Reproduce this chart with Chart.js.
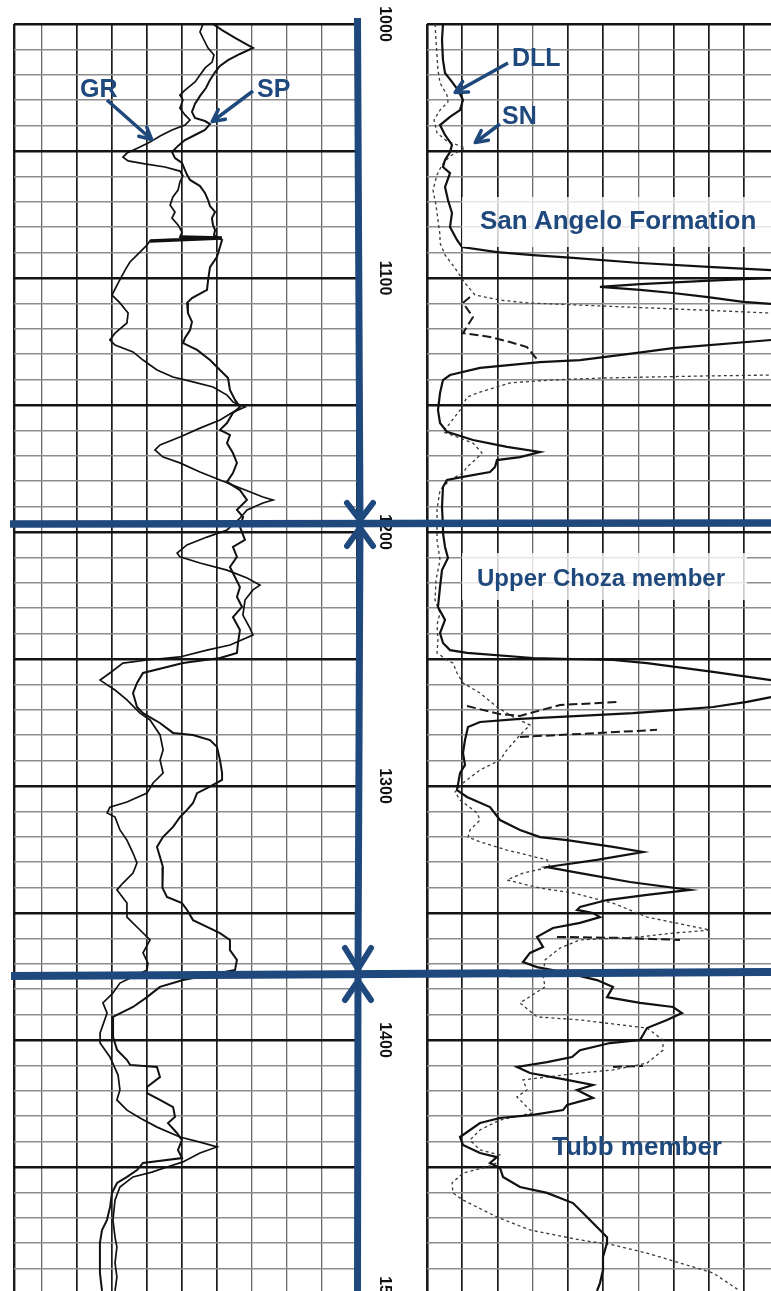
<!DOCTYPE html>
<html>
<head>
<meta charset="utf-8">
<title>Well log – San Angelo, Upper Choza and Tubb</title>
<script src="https://cdn.jsdelivr.net/npm/chart.js@4.4.1/dist/chart.umd.min.js"></script>
<style>
  html, body { margin: 0; padding: 0; background: #fff; }
  #log { position: relative; width: 771px; height: 1291px; overflow: hidden; background: #fff; }
  #trackL { position: absolute; left: 0; top: 0; }
  #trackR { position: absolute; left: 362px; top: 0; }
  #marks { position: absolute; left: 0; top: 0; pointer-events: none; }
  #marks text { font-family: "Liberation Sans", Arial, sans-serif; font-weight: bold; fill: #1f497d; }
</style>
</head>
<body>
<div id="log">
  <canvas id="trackL" width="360" height="1300"></canvas>
  <canvas id="trackR" width="420" height="1300"></canvas>
  <svg id="marks" width="771" height="1291" viewBox="0 0 771 1291" xmlns="http://www.w3.org/2000/svg">
    <defs>
      <marker id="head" viewBox="0 0 16 16" refX="13" refY="8" markerWidth="16" markerHeight="16"
              markerUnits="userSpaceOnUse" orient="auto">
        <path d="M2,2 L14,8 L2,14" fill="none" stroke="#1f497d" stroke-width="3.5"
              stroke-linecap="round" stroke-linejoin="round"/>
      </marker>
    </defs>
    <!-- formation boundaries -->
    <polyline points="357.5,18 360,523 358,975 357.5,1291" fill="none" stroke="#1f497d" stroke-width="7"/>
    <line x1="10" y1="524" x2="771" y2="523" stroke="#1f497d" stroke-width="7.5"/>
    <line x1="11" y1="976" x2="771" y2="972" stroke="#1f497d" stroke-width="8"/>
    <g fill="none" stroke="#1f497d" stroke-width="6" stroke-linecap="round" stroke-linejoin="round">
      <polyline points="347,503 360,520 373,503"/>
      <polyline points="347,546 360,528 373,546"/>
      <polyline points="345,948 358,969 371,948"/>
      <polyline points="345,1000 358,981 371,1000"/>
    </g>
    <!-- formation names -->
    <rect x="462" y="197" width="309" height="50" fill="#fff" fill-opacity="0.78"/>
    <text x="480" y="229" font-size="26">San Angelo Formation</text>
    <rect x="462" y="553" width="285" height="47" fill="#fff" fill-opacity="0.78"/>
    <text x="477" y="586" font-size="24">Upper Choza member</text>
    <text x="552" y="1155" font-size="26">Tubb member</text>
    <!-- curve call-outs -->
    <text x="80" y="97" font-size="25">GR</text>
    <line x1="107" y1="100" x2="151" y2="139" stroke="#1f497d" stroke-width="3.5" marker-end="url(#head)"/>
    <text x="257" y="97" font-size="25">SP</text>
    <line x1="253" y1="91" x2="213" y2="121" stroke="#1f497d" stroke-width="3.5" marker-end="url(#head)"/>
    <text x="512" y="66" font-size="25">DLL</text>
    <line x1="508" y1="63" x2="456" y2="92" stroke="#1f497d" stroke-width="3.5" marker-end="url(#head)"/>
    <text x="502" y="124" font-size="25">SN</text>
    <line x1="500" y1="124" x2="476" y2="142" stroke="#1f497d" stroke-width="3.5" marker-end="url(#head)"/>
  </svg>
</div>
<script>
// Depth annotations (ft)
const depthLabels = [1000, 1100, 1200, 1300, 1400, 1500];

// Track 1: gamma ray (API)
const grDepth = [1000.0,1003.1,1006.3,1009.4,1012.2,1015.0,1017.3,1020.1,1022.8,1026.0,1028.0,1029.9,1033.1,1035.8,1037.8,1039.8,1041.7,1044.1,1046.5,1048.8,1050.8,1052.4,1053.9,1055.1,1056.3,1057.9,1059.8,1062.2,1065.4,1068.1,1071.3,1074.0,1076.4,1079.1,1081.9,1083.9,1084.3,1085.4,1087.0,1089.8,1093.7,1096.9,1102.0,1106.7,1109.8,1113.8,1117.7,1121.7,1124.4,1126.4,1129.1,1132.3,1136.2,1139.0,1140.9,1142.9,1146.1,1148.8,1150.8,1152.8,1155.9,1159.1,1162.6,1165.7,1167.7,1170.5,1172.8,1176.4,1179.5,1182.7,1186.2,1187.4,1188.6,1191.3,1194.5,1199.2,1202.0,1205.1,1208.3,1209.8,1212.2,1215.0,1218.1,1220.9,1222.8,1226.8,1232.7,1237.8,1240.6,1244.5,1246.5,1249.2,1250.4,1251.6,1255.5,1258.3,1260.2,1262.2,1266.1,1271.3,1274.0,1279.9,1285.8,1289.8,1294.9,1298.8,1302.8,1306.3,1308.3,1310.6,1312.2,1317.3,1321.3,1326.4,1330.3,1334.3,1338.2,1340.9,1346.1,1351.6,1356.7,1360.6,1365.7,1369.7,1372.4,1377.6,1381.5,1385.4,1389.4,1397.2,1401.2,1406.7,1413.8,1419.7,1423.6,1427.6,1430.7,1434.3,1438.2,1440.2,1442.1,1444.5,1448.0,1450.0,1452.0,1453.9,1457.9,1463.0,1470.9,1477.6,1481.5,1487.8,1493.3,1498.8];
const grApi = [84.0,82.7,84.4,86.1,88.7,87.9,84.9,82.7,80.6,76.3,74.1,75.4,74.1,76.3,78.4,76.3,70.7,65.6,61.3,56.1,51.4,49.7,51.9,59.1,67.7,74.1,75.4,74.1,73.3,71.1,69.9,72.0,70.7,73.3,75.0,74.1,92.1,61.3,60.0,57.0,52.7,50.6,47.6,45.0,48.4,51.9,51.4,46.3,44.1,46.3,54.0,58.3,64.3,71.1,79.7,88.3,94.3,96.9,102.0,96.9,91.3,82.7,74.1,65.6,63.4,66.9,74.1,82.7,91.3,99.9,109.7,114.0,109.7,102.9,99.9,94.3,85.7,77.1,72.9,74.1,82.7,94.3,102.9,108.4,105.4,102.0,101.1,104.1,105.4,95.6,85.7,74.1,60.0,49.7,44.1,39.9,42.9,46.3,51.4,57.0,61.3,65.6,66.9,65.6,66.9,62.6,60.0,51.4,44.1,42.9,46.3,48.4,51.4,54.0,55.7,54.0,49.7,47.1,51.4,51.4,57.0,61.3,58.3,60.4,60.0,48.4,45.4,41.1,42.9,39.9,39.9,44.1,47.6,48.4,47.1,51.4,57.0,64.3,74.1,82.7,90.0,82.7,75.4,68.6,62.1,54.0,48.4,46.3,45.4,46.3,47.1,46.3,47.1,46.3];

// Track 1: spontaneous potential (mV)
const spDepth = [1000.0,1002.4,1005.5,1008.3,1009.4,1011.8,1014.2,1016.5,1018.9,1022.0,1025.2,1028.3,1031.5,1034.6,1037.0,1038.2,1039.4,1041.7,1043.7,1045.7,1048.0,1050.4,1052.8,1054.7,1057.5,1059.4,1061.4,1063.8,1066.5,1069.3,1071.7,1074.0,1076.4,1079.1,1081.1,1083.1,1085.0,1087.8,1091.7,1095.7,1100.8,1104.7,1107.9,1109.8,1113.8,1117.3,1120.5,1123.6,1125.6,1128.3,1132.3,1136.2,1139.4,1144.1,1148.0,1150.8,1153.1,1157.1,1159.8,1161.8,1165.0,1168.9,1172.8,1176.8,1180.3,1183.5,1187.4,1191.3,1194.1,1198.0,1203.1,1205.9,1209.8,1213.8,1221.7,1225.6,1229.5,1233.5,1238.6,1243.7,1247.6,1249.6,1251.6,1255.5,1259.4,1263.4,1268.9,1271.3,1275.2,1279.1,1279.9,1281.9,1284.6,1289.8,1294.9,1297.6,1300.8,1302.8,1306.7,1309.4,1312.2,1316.1,1320.1,1324.0,1327.9,1331.9,1337.0,1340.1,1343.7,1346.1,1348.8,1352.8,1355.5,1357.9,1360.6,1364.6,1368.5,1372.4,1376.4,1379.1,1383.1,1387.0,1390.9,1398.8,1403.9,1407.9,1409.8,1410.6,1414.6,1418.5,1420.9,1423.6,1426.4,1430.3,1432.7,1436.6,1439.4,1443.3,1446.5,1448.4,1451.2,1453.9,1456.3,1460.2,1465.7,1470.9,1474.8,1479.9,1485.4,1491.7,1498.8];
const spMv = [-82.3,-77.1,-69.7,-62.3,-59.4,-66.9,-73.7,-78.3,-81.1,-84.0,-86.3,-89.7,-92.6,-94.3,-92.6,-86.9,-84.0,-86.9,-92.6,-98.3,-102.3,-105.7,-104.0,-100.0,-98.3,-97.1,-95.4,-89.7,-86.9,-85.1,-84.0,-81.1,-82.9,-82.3,-81.1,-81.7,-77.1,-78.3,-80.0,-84.0,-85.1,-85.7,-94.3,-97.1,-96.6,-94.3,-95.4,-98.3,-99.4,-91.4,-84.0,-78.3,-73.7,-72.6,-69.7,-66.9,-70.9,-74.3,-78.3,-72.6,-74.3,-70.9,-68.6,-70.9,-74.3,-66.9,-62.9,-68.6,-65.1,-66.9,-64.0,-70.9,-68.6,-72.6,-66.9,-68.6,-65.7,-70.9,-66.9,-68.0,-68.6,-78.3,-99.4,-122.3,-125.7,-128.0,-125.7,-122.3,-112.6,-105.1,-93.7,-84.0,-80.0,-78.3,-77.1,-77.1,-85.7,-91.4,-93.7,-97.1,-101.1,-105.1,-110.9,-114.3,-112.6,-110.9,-110.9,-111.4,-108.6,-100.0,-97.1,-93.7,-85.7,-78.3,-72.6,-72.6,-68.6,-69.7,-99.4,-112.6,-120.0,-128.0,-139.4,-139.4,-137.1,-131.4,-129.7,-114.3,-112.6,-120.0,-120.0,-112.6,-105.1,-104.0,-108.0,-102.9,-100.0,-102.3,-100.0,-122.3,-125.7,-131.4,-137.1,-140.0,-141.1,-142.9,-145.7,-146.9,-146.9,-146.9,-145.7];

// Track 2: deep laterolog (ohm·m); values past 50 run off the track
const dllDepth = [1000.0,1006.3,1014.2,1019.3,1022.8,1026.0,1029.9,1033.9,1036.6,1039.8,1043.7,1047.6,1050.4,1053.5,1056.3,1058.7,1064.2,1069.3,1074.4,1079.9,1085.0,1087.8,1089.8,1091.0,1092.1,1094.1,1095.7,1096.9,1097.6,1099.2,1100.0,1101.2,1102.4,1103.5,1104.7,1105.9,1107.5,1109.4,1110.2,1111.0,1123.6,1124.4,1127.6,1129.5,1132.3,1133.1,1135.4,1138.2,1140.2,1145.3,1152.0,1157.1,1160.6,1163.8,1166.5,1168.5,1170.5,1171.7,1174.4,1176.4,1178.3,1179.5,1182.3,1190.2,1198.0,1200.4,1205.9,1210.2,1215.0,1221.7,1229.5,1234.6,1239.8,1243.7,1246.5,1247.6,1249.6,1250.4,1251.6,1255.1,1258.3,1259.8,1264.2,1265.0,1266.9,1268.9,1270.1,1271.3,1272.4,1273.6,1274.8,1276.8,1281.9,1287.0,1291.7,1294.9,1301.6,1304.3,1308.3,1313.4,1317.3,1320.1,1321.3,1324.0,1326.0,1329.1,1331.9,1334.3,1337.8,1340.9,1342.9,1344.9,1347.6,1348.8,1350.0,1351.6,1353.9,1355.9,1359.4,1363.4,1365.7,1369.3,1371.3,1373.6,1376.4,1379.1,1383.1,1385.4,1387.0,1389.4,1392.1,1395.3,1400.0,1401.2,1404.0,1406.7,1408.7,1410.6,1413.0,1415.7,1417.7,1419.7,1422.8,1425.6,1427.6,1429.5,1430.7,1432.7,1438.2,1441.3,1444.5,1446.1,1448.4,1450.4,1453.9,1457.9,1460.2,1464.2,1469.7,1477.6,1479.9,1485.4,1490.6,1495.7,1498.8];
const dllOhmm = [2.27,2.13,2.27,2.56,3.55,4.40,5.11,4.69,3.27,1.85,2.56,3.55,3.27,2.56,2.27,3.27,2.56,2.98,3.55,3.27,4.26,4.97,9.94,15.06,20.74,30.26,40.63,48.87,52.98,52.98,48.87,38.78,30.26,24.57,30.26,34.94,39.91,44.89,48.87,52.98,52.98,48.87,34.94,29.83,21.73,16.05,7.53,3.27,2.27,1.85,1.56,1.85,2.84,6.53,11.36,16.05,13.21,9.94,9.66,8.95,5.11,2.84,2.27,2.13,2.27,2.27,2.56,2.98,2.13,1.85,1.56,2.56,1.85,2.27,3.27,5.68,15.06,26.42,31.25,40.63,48.87,52.98,52.98,48.87,45.46,40.63,34.94,29.26,21.73,13.21,7.53,5.82,5.40,5.11,5.40,4.69,4.26,5.68,8.95,10.37,13.21,16.05,19.89,26.42,30.68,24.15,17.05,21.73,28.84,37.36,31.25,25.57,21.73,21.31,23.58,24.57,21.73,17.90,15.63,16.48,14.63,13.64,15.63,19.89,24.15,26.42,25.57,30.26,34.94,36.22,34.09,31.25,30.26,26.00,21.73,20.60,17.05,12.78,14.63,19.89,23.58,21.31,23.58,19.89,19.32,15.06,10.37,7.53,4.69,5.11,7.53,9.94,8.95,10.37,10.80,13.21,17.05,20.74,22.73,25.57,25.57,25.00,25.00,24.57,24.15];

// Track 2: short normal (ohm·m)
const snDepth = [1000.0,1006.3,1012.2,1018.1,1023.2,1028.0,1030.7,1033.9,1037.8,1042.9,1046.1,1048.8,1052.0,1055.5,1059.4,1065.4,1071.3,1077.2,1083.1,1086.2,1090.9,1096.1,1102.0,1106.7,1108.7,1109.8,1111.0,1112.6,1113.8,1114.2,1137.8,1138.2,1138.6,1139.4,1140.2,1141.3,1142.9,1144.9,1146.9,1152.0,1158.7,1160.6,1162.6,1165.0,1168.9,1170.9,1174.4,1176.8,1179.5,1183.5,1191.3,1199.2,1203.1,1211.0,1218.9,1226.8,1231.9,1236.6,1242.5,1247.6,1250.4,1251.6,1255.5,1259.4,1263.4,1268.9,1272.8,1276.0,1279.9,1285.8,1289.8,1293.7,1298.8,1302.4,1305.5,1310.6,1313.4,1317.3,1320.1,1322.0,1325.2,1329.1,1331.9,1334.3,1337.0,1340.2,1342.1,1346.1,1351.6,1356.7,1357.9,1359.4,1360.6,1363.8,1368.5,1374.4,1379.1,1385.4,1390.9,1392.1,1395.3,1400.0,1404.0,1409.1,1411.8,1413.0,1415.7,1419.7,1422.4,1426.4,1428.7,1431.5,1435.4,1439.4,1443.3,1445.3,1448.4,1450.0,1452.4,1456.3,1460.2,1463.0,1469.7,1474.8,1478.7,1480.7,1483.9,1487.8,1491.7,1498.8];
const snOhmm = [1.14,1.28,1.42,1.56,1.85,2.84,2.98,1.85,0.99,1.42,2.84,5.40,3.27,2.13,1.42,0.85,1.28,1.56,1.85,1.85,2.56,3.98,5.40,6.82,10.37,14.20,24.57,38.78,48.87,52.98,52.98,48.87,38.78,24.57,17.47,11.79,9.94,7.53,5.68,4.69,2.84,2.27,4.26,6.53,7.81,7.10,5.68,5.11,3.27,1.85,1.42,1.42,1.42,1.85,1.28,1.14,1.85,1.42,1.56,1.42,2.84,3.69,4.26,5.11,7.53,9.94,12.22,14.63,13.21,11.36,10.37,7.53,5.11,3.98,4.69,7.10,7.53,6.11,5.82,7.53,11.36,17.05,17.47,13.64,11.36,16.05,20.74,26.42,31.25,40.20,34.94,30.26,21.73,18.89,16.76,16.48,16.76,13.21,15.63,21.73,31.25,33.52,33.52,31.25,26.42,21.73,13.64,14.20,12.78,14.20,15.06,10.37,7.53,6.11,7.53,10.37,9.94,8.52,5.11,3.55,3.69,5.11,9.94,14.63,21.73,26.42,31.25,35.94,40.63,44.46];

// Track 2: backup resistivity trace (ohm·m), recorded only in short runs
const auxDepth = [1107.5,1109.8,1115.4,1121.7,1123.2,1125.2,1127.2,1131.1,1133.1,null,1268.5,1271.7,1272.4,1268.1,1266.9,null,1280.7,1279.5,1277.9,null,1359.4,1359.8,1360.6,null,1410.6,1410.2];
const auxOhmm = [6.11,5.11,6.53,5.11,8.95,11.79,14.20,15.34,16.05,null,5.68,10.37,13.21,18.89,27.41,null,13.21,21.73,32.67,null,18.47,27.41,35.94,null,26.42,30.68];

const toPoints = (depths, values) => depths.map((d, i) => ({ x: values[i], y: d }));

function depthScale() {
  return {
    type: 'linear', axis: 'y', min: 1000, max: 1500, reverse: true,
    ticks: { display: false, stepSize: 10 },
    grid: {
      drawTicks: false,
      color: c => (c.tick && c.tick.value % 50 === 0) ? '#141414' : '#8d8d8d',
      lineWidth: c => (c.tick && c.tick.value % 50 === 0) ? 2.4 : 1.6
    },
    border: { display: false }
  };
}

function curve(label, data, axis, color, width, dash) {
  return {
    label, data, xAxisID: axis, yAxisID: 'y',
    showLine: true, borderColor: color, borderWidth: width, borderDash: dash || [],
    pointRadius: 0, tension: 0, spanGaps: false, fill: false
  };
}

const common = {
  responsive: false, animation: false, devicePixelRatio: 1, events: [],
  plugins: { legend: { display: false }, tooltip: { enabled: false } }
};

// Track 1: GR and SP (the pen smear near 1084 ft is drawn heavier)
new Chart(document.getElementById('trackL'), {
  type: 'scatter',
  data: {
    datasets: [
      curve('GR', toPoints(grDepth, grApi), 'x', '#111', 1.7),
      curve('GR smear', toPoints(grDepth.slice(35, 38), grApi.slice(35, 38)), 'x', '#111', 3.5),
      curve('SP', toPoints(spDepth, spMv), 'xsp', '#111', 2.0)
    ]
  },
  options: Object.assign({}, common, {
    layout: { padding: { left: 14, right: 3, top: 24, bottom: 6 } },
    scales: {
      x: {
        type: 'linear', axis: 'x', position: 'bottom', min: 3, max: 150,
        ticks: { display: false, stepSize: 15 },
        grid: {
          drawTicks: false,
          color: c => [15, 105, 120, 135].includes(c.tick.value) ? '#6a6a6a' : '#1a1a1a',
          lineWidth: c => c.tick.value === 3 ? 2.4 : ([15, 105, 120, 135].includes(c.tick.value) ? 1.3 : 1.7)
        },
        border: { display: false }
      },
      xsp: { type: 'linear', axis: 'x', display: false, min: -196, max: 0 },
      y: depthScale()
    }
  })
});

// Depth numbers in the column between the tracks
const depthNumbers = {
  id: 'depthNumbers',
  afterDraw(chart) {
    const { ctx } = chart;
    const y = chart.scales.y;
    ctx.save();
    ctx.fillStyle = '#111';
    ctx.font = 'bold 16px "Liberation Sans", Arial, sans-serif';
    ctx.textAlign = 'center';
    ctx.textBaseline = 'middle';
    depthLabels.forEach(d => {
      ctx.save();
      ctx.translate(22, y.getPixelForValue(d));
      ctx.rotate(Math.PI / 2);
      ctx.fillText(String(d), 0, 0);
      ctx.restore();
    });
    ctx.restore();
  }
};

// Track 2: DLL, SN and backup trace
new Chart(document.getElementById('trackR'), {
  type: 'scatter',
  data: {
    datasets: [
      curve('DLL', toPoints(dllDepth, dllOhmm), 'x', '#111', 2.2),
      curve('SN', toPoints(snDepth, snOhmm), 'x', '#3a3a3a', 1.3, [3, 3]),
      curve('Backup', toPoints(auxDepth, auxOhmm), 'x', '#1a1a1a', 2.0, [9, 4])
    ]
  },
  options: Object.assign({}, common, {
    layout: { padding: { left: 65, right: 3, top: 24, bottom: 6 } },
    scales: {
      x: {
        type: 'linear', axis: 'x', position: 'bottom', min: 0, max: 50,
        ticks: { display: false, stepSize: 5 },
        grid: {
          drawTicks: false,
          color: c => [15, 30].includes(c.tick.value) ? '#6a6a6a' : '#1a1a1a',
          lineWidth: c => c.tick.value === 0 ? 2.6 : ([15, 30].includes(c.tick.value) ? 1.3 : 1.7)
        },
        border: { display: false }
      },
      y: depthScale()
    }
  }),
  plugins: [depthNumbers]
});
</script>
</body>
</html>
